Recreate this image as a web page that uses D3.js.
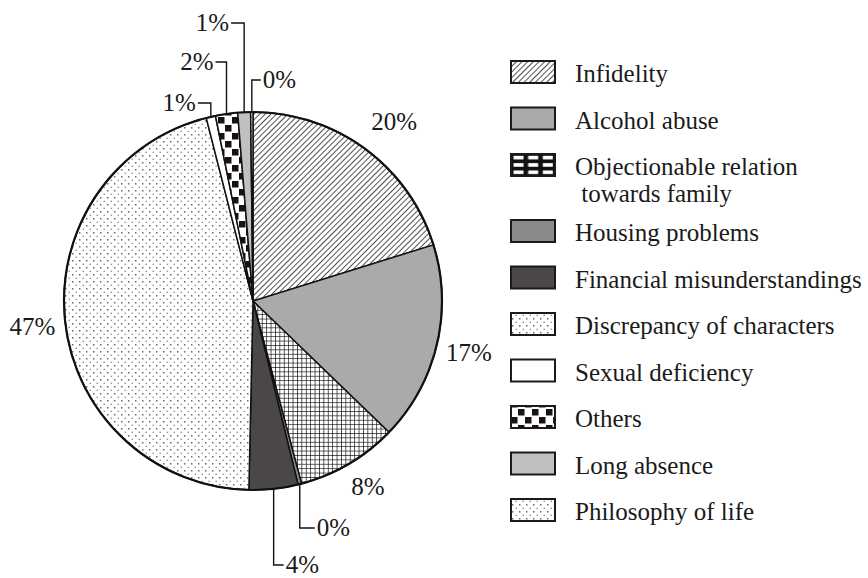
<!DOCTYPE html>
<html>
<head>
<meta charset="utf-8">
<script src="https://cdn.jsdelivr.net/npm/d3@7"></script>
<style>
  body { margin: 0; background: #fff; }
  text { font-family: 'Liberation Serif', 'Times New Roman', serif; fill: #1a1a1a; }
</style>
</head>
<body>
<div id="chart"></div>
<script>
// data (clockwise from 12 o'clock)
const categories = [
  'Infidelity',
  'Alcohol abuse',
  'Objectionable relation\n towards family',
  'Housing problems',
  'Financial misunderstandings',
  'Discrepancy of characters',
  'Sexual deficiency',
  'Others',
  'Long absence',
  'Philosophy of life'
]
const shares = [20.3, 17.1, 8.7, 0.3, 4.2, 45.9, 0.8, 1.9, 1.1, 0.2]
const percentLabels = ['20%', '17%', '8%', '0%', '4%', '47%', '1%', '2%', '1%', '0%']

// styles
const fills = [
  'url(#hatch)', '#aaaaaa', 'url(#grid)', '#8a8a8a', '#4b4747',
  'url(#dots)', '#ffffff', 'url(#checker)', '#c0c0c0', 'url(#dots)'
]
const legendFills = fills.map((f, i) => (i === 2 ? 'url(#gridBig)' : f))

// label placement: radial labels or elbow leaders
const labelLayout = [
  { r: 228, dx: 6, dy: 4 },
  { r: 222, dx: 0, dy: 0 },
  { r: 215, dx: 6, dy: 0 },
  { leaderY: 528, dir: 1, len: 15 },
  { leaderY: 565, dir: 1, len: 10 },
  { r: 222, dx: 0, dy: 0 },
  { leaderY: 103, dir: -1, len: 13 },
  { leaderY: 62, dir: -1, len: 11 },
  { leaderY: 23, dir: -1, len: 13 },
  { leaderY: 80, dir: 1, len: 9 }
]

let width = 868
let height = 578
let cx = 253
let cy = 301
let radius = 189

let svg = d3
  .select('#chart')
  .append('svg')
  .attr('width', width)
  .attr('height', height)

let defs = svg.append('defs')

let hatch = defs.append('pattern')
  .attr('id', 'hatch')
  .attr('width', 4)
  .attr('height', 4)
  .attr('patternUnits', 'userSpaceOnUse')
  .attr('patternTransform', 'rotate(45)')
hatch.append('rect').attr('width', 4).attr('height', 4).attr('fill', '#fff')
hatch.append('line')
  .attr('x1', 0).attr('y1', 0).attr('x2', 0).attr('y2', 4)
  .attr('stroke', '#333').attr('stroke-width', 1.7)

let grid = defs.append('pattern')
  .attr('id', 'grid')
  .attr('width', 4.4)
  .attr('height', 4.4)
  .attr('patternUnits', 'userSpaceOnUse')
grid.append('rect').attr('width', 4.4).attr('height', 4.4).attr('fill', '#fff')
grid.append('path')
  .attr('d', 'M0,0V4.4M0,0H4.4')
  .attr('stroke', '#111').attr('stroke-width', 1.4)

let gridBig = defs.append('pattern')
  .attr('id', 'gridBig')
  .attr('width', 1 / 3)
  .attr('height', 1 / 3)
  .attr('patternUnits', 'objectBoundingBox')
gridBig.append('rect').attr('width', 15).attr('height', 8).attr('fill', '#111')
gridBig.append('rect').attr('x', 2.5).attr('y', 1.8).attr('width', 10).attr('height', 3.6).attr('fill', '#fff')

let dots = defs.append('pattern')
  .attr('id', 'dots')
  .attr('width', 7)
  .attr('height', 7)
  .attr('patternUnits', 'userSpaceOnUse')
dots.append('rect').attr('width', 7).attr('height', 7).attr('fill', '#fff')
dots.append('circle').attr('cx', 1.75).attr('cy', 1.75).attr('r', 0.85).attr('fill', '#555')
dots.append('circle').attr('cx', 5.25).attr('cy', 5.25).attr('r', 0.85).attr('fill', '#999')

let checker = defs.append('pattern')
  .attr('id', 'checker')
  .attr('width', 14)
  .attr('height', 16)
  .attr('patternUnits', 'userSpaceOnUse')
checker.append('rect').attr('width', 14).attr('height', 16).attr('fill', '#fff')
checker.append('rect').attr('x', 0).attr('y', 0).attr('width', 6.5).attr('height', 6.5).attr('fill', '#1a1212')
checker.append('rect').attr('x', 7).attr('y', 8).attr('width', 6.5).attr('height', 6.5).attr('fill', '#1a1212')

let pie = d3.pie().sort(null).value(d => d)
let arc = d3.arc().innerRadius(0).outerRadius(radius)
let arcs = pie(shares)

let g = svg.append('g').attr('transform', `translate(${cx},${cy})`)

g.selectAll('.slice')
  .data(arcs)
  .enter()
  .append('path')
  .attr('class', 'slice')
  .attr('d', arc)
  .attr('fill', (d, i) => fills[i])
  .attr('stroke', '#111')
  .attr('stroke-width', 1.5)
  .attr('stroke-linejoin', 'round')

g.append('circle')
  .attr('r', radius)
  .attr('fill', 'none')
  .attr('stroke', '#111')
  .attr('stroke-width', 2.2)

// percent labels
arcs.forEach((d, i) => {
  let lay = labelLayout[i]
  let mid = (d.startAngle + d.endAngle) / 2
  if (lay.leaderY === undefined) {
    let x = Math.sin(mid) * lay.r + lay.dx
    let y = -Math.cos(mid) * lay.r + lay.dy
    g.append('text')
      .attr('x', x)
      .attr('y', y)
      .attr('text-anchor', 'middle')
      .attr('dy', '0.35em')
      .attr('font-size', 25)
      .text(percentLabels[i])
  } else {
    let x0 = Math.sin(mid) * radius
    let y0 = -Math.cos(mid) * radius
    let ly = lay.leaderY - cy
    let x1 = x0 + lay.dir * lay.len
    g.append('path')
      .attr('d', `M${x0},${y0}V${ly}H${x1}`)
      .attr('fill', 'none')
      .attr('stroke', '#111')
      .attr('stroke-width', 1.4)
    g.append('text')
      .attr('x', x1 + lay.dir * 2)
      .attr('y', ly)
      .attr('dy', '0.33em')
      .attr('text-anchor', lay.dir > 0 ? 'start' : 'end')
      .attr('font-size', 25)
      .text(percentLabels[i])
  }
})

// legend
let legend = svg.append('g').attr('transform', 'translate(511, 0)')
let rowY = []
let yy = 72
categories.forEach((c, i) => {
  rowY.push(yy)
  yy += 46.5 + (c.split('\n').length - 1) * 19.5
})

legend
  .selectAll('.legend-entry')
  .data(categories)
  .enter()
  .append('g')
  .attr('class', 'legend-entry')
  .attr('transform', (d, i) => `translate(0,${rowY[i]})`)
  .each(function(d, i) {
    let entry = d3.select(this)
    entry.append('rect')
      .attr('x', 0)
      .attr('y', -11)
      .attr('width', 44)
      .attr('height', 22)
      .attr('fill', legendFills[i])
      .attr('stroke', '#1a1a1a')
      .attr('stroke-width', 2)

    let t = entry.append('text')
      .attr('x', 64)
      .attr('y', 10)
      .attr('font-size', 25)
      .style('white-space', 'pre')
    d.split('\n').forEach((line, j) => {
      t.append('tspan')
        .attr('x', 64)
        .attr('dy', j === 0 ? 0 : 27)
        .text(line)
    })
  })
</script>
</body>
</html>
